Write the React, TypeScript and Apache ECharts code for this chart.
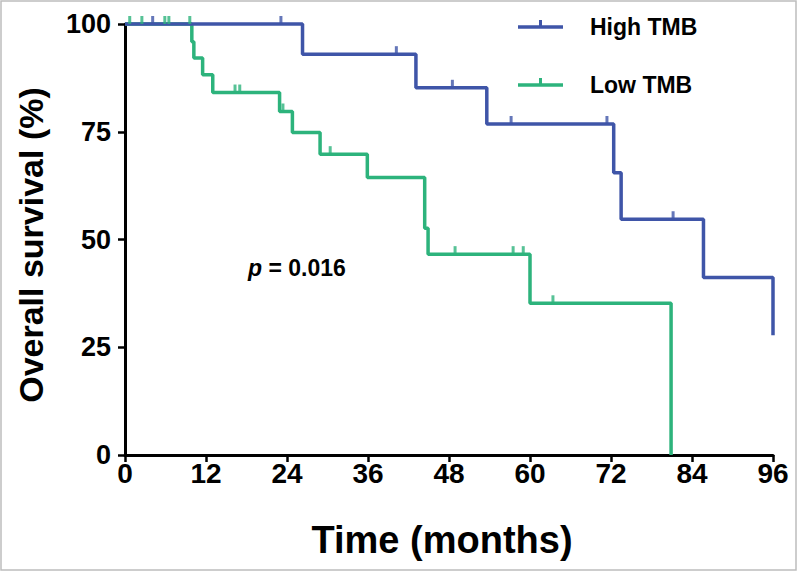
import React, { useEffect, useRef } from "react";
import * as echarts from "echarts";

// Kaplan-Meier steps: [time (months), survival (%)]
const highTMBSteps: [number, number][] = [
  [0, 100], [26.3, 93.0], [43.1, 85.2], [53.6, 76.8], [72.4, 65.5],
  [73.5, 54.7], [85.7, 41.2], [96, 27.8],
];
const highTMBCensored: [number, number][] = [
  [4.1, 100], [23.1, 100], [40.2, 93.0], [48.5, 85.2], [57.2, 76.8],
  [71.4, 76.8], [81.2, 54.7],
];
const lowTMBSteps: [number, number][] = [
  [0, 100], [9.9, 95.9], [10.2, 92.1], [11.5, 88.2], [13.0, 84.1],
  [22.9, 79.7], [24.8, 74.8], [28.9, 69.8], [35.9, 64.4], [44.4, 52.6],
  [44.9, 46.6], [60.0, 35.2], [80.9, 0],
];
const lowTMBCensored: [number, number][] = [
  [0.7, 100], [2.5, 100], [5.9, 100], [6.5, 100], [9.6, 100],
  [16.3, 84.1], [17.0, 84.1], [23.4, 79.7], [30.4, 69.8], [48.9, 46.6],
  [57.5, 46.6], [59.0, 46.6], [63.4, 35.2],
];
const xTicks = [0, 12, 24, 36, 48, 60, 72, 84, 96];
const yTicks = [0, 25, 50, 75, 100];
const seriesNames = ["High TMB", "Low TMB"];
const pValueLabel = "0.016";

const BLUE = "#3f55a8";
const GREEN = "#2db37c";
const FONT = '"Liberation Sans", Arial, Helvetica, sans-serif';

export default function App() {
  const ref = useRef<HTMLDivElement>(null);
  useEffect(() => {
    if (!ref.current) return;
    const chart = echarts.init(ref.current, null, { renderer: "svg" });
    const lineW = 3.5;
    const stepSeries = (name: string, data: [number, number][], color: string) => ({
      name,
      type: "line",
      step: "end",
      data,
      showSymbol: false,
      symbol: "none",
      clip: false,
      lineStyle: { color, width: lineW },
      itemStyle: { color },
      z: 3,
    });
    const censorSeries = (name: string, data: [number, number][], color: string) => ({
      name,
      type: "scatter",
      data,
      symbol: "rect",
      symbolSize: [3, 8],
      symbolOffset: [0, -4],
      clip: false,
      itemStyle: { color },
      z: 4,
    });
    const legendItem = (y: number, color: string, text: string) => [
      { type: "line", shape: { x1: 518, y1: y, x2: 563, y2: y }, style: { stroke: color, lineWidth: lineW } },
      { type: "line", shape: { x1: 540.5, y1: y - 7, x2: 540.5, y2: y }, style: { stroke: color, lineWidth: 3 } },
      {
        type: "text", x: 590, y,
        style: { text, font: `bold 23px ${FONT}`, fill: "#000", verticalAlign: "middle", align: "left" },
      },
    ];
    chart.setOption({
      animation: false,
      backgroundColor: "#fff",
      grid: { left: 125, right: 27, top: 24, bottom: 118, containLabel: false },
      xAxis: {
        type: "value",
        min: xTicks[0],
        max: xTicks[xTicks.length - 1],
        interval: 12,
        axisLine: { show: true, onZero: false, lineStyle: { color: "#000", width: 3 } },
        axisTick: { show: true, length: 7, lineStyle: { color: "#000", width: 2.5 } },
        axisLabel: { color: "#000", fontSize: 28, fontWeight: "bold", fontFamily: FONT, margin: 4 },
        splitLine: { show: false },
      },
      yAxis: {
        type: "value",
        min: yTicks[0],
        max: yTicks[yTicks.length - 1],
        interval: 25,
        axisLine: { show: true, onZero: false, lineStyle: { color: "#000", width: 3 } },
        axisTick: { show: true, length: 7, lineStyle: { color: "#000", width: 2.5 } },
        axisLabel: { color: "#000", fontSize: 27, fontWeight: "bold", fontFamily: FONT, margin: 14 },
        splitLine: { show: false },
      },
      series: [
        stepSeries(seriesNames[1], lowTMBSteps, GREEN),
        censorSeries(seriesNames[1] + " censored", lowTMBCensored, GREEN),
        stepSeries(seriesNames[0], highTMBSteps, BLUE),
        censorSeries(seriesNames[0] + " censored", highTMBCensored, BLUE),
      ],
      graphic: [
        { type: "rect", shape: { x: 1, y: 1, width: 795, height: 569 }, style: { fill: "none", stroke: "#bdbdbd", lineWidth: 1.5 }, silent: true },
        ...legendItem(27, BLUE, seriesNames[0]),
        ...legendItem(85, GREEN, seriesNames[1]),
        {
          type: "text", x: 248, y: 268,
          style: {
            text: "{i|p} = " + pValueLabel,
            font: `bold 23px ${FONT}`,
            fill: "#000",
            verticalAlign: "middle",
            rich: { i: { fontStyle: "italic", fontWeight: "bold", fontSize: 23, fontFamily: FONT } },
          },
        },
        {
          type: "text", x: 442, y: 540,
          style: { text: "Time (months)", font: `bold 38px ${FONT}`, fill: "#000", align: "center", verticalAlign: "middle" },
        },
        {
          type: "text", x: 31, y: 245, rotation: Math.PI / 2,
          style: { text: "Overall survival (%)", font: `bold 34px ${FONT}`, fill: "#000", align: "center", verticalAlign: "middle" },
        },
      ],
    });
    return () => chart.dispose();
  }, []);
  return (
    <div
      ref={ref}
      style={{ position: "fixed", left: 0, top: 0, width: 800, height: 573, background: "#fff" }}
    />
  );
}
